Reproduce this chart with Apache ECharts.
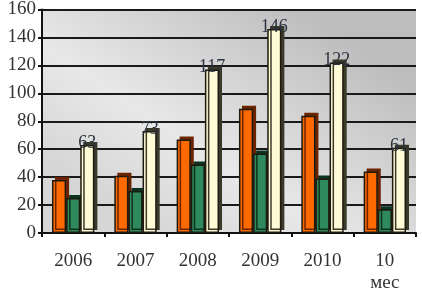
<!DOCTYPE html>
<html>
<head>
<meta charset="utf-8">
<script src="https://cdn.jsdelivr.net/npm/echarts@6/dist/echarts.min.js"></script>
<style>html,body{margin:0;padding:0;background:#fff}#chart{width:422px;height:295px}</style>
</head>
<body>
<div id="chart"></div>
<script>
var chart = echarts.init(document.getElementById('chart'));

// datos
var periodos = ['2006', '2007', '2008', '2009', '2010', '10\nмес'];
var serieNaranja = [38, 41, 67, 89, 84, 44];
var serieVerde = [25, 30, 49, 57, 39, 17];
var serieAmarilla = [63, 73, 117, 146, 122, 61];

var fuente = '"Liberation Serif", "DejaVu Serif", serif';

function barra(nombre, datos, color, lado, etiqueta) {
    return {
        name: nombre, type: 'bar', data: datos,
        barGap: '0%', barCategoryGap: '32%',
        itemStyle: {
            color: color, borderColor: '#1f1a10', borderWidth: 1.5,
            shadowColor: lado, shadowOffsetX: 3, shadowOffsetY: -3, shadowBlur: 0
        },
        label: etiqueta ? {
            show: true, position: 'top', distance: -7,
            fontFamily: fuente, fontSize: 18, color: '#2b3340'
        } : { show: false }
    };
}

var option = {
    backgroundColor: '#fff',
    animation: false,
    grid: {
        left: 42, right: 6, top: 5, bottom: 62,
        show: true, borderWidth: 0,
        backgroundColor: new echarts.graphic.LinearGradient(0.7, 0, 0.3, 1, [
            { offset: 0, color: '#bdbdbd' },
            { offset: 0.65, color: '#e8e8e8' },
            { offset: 1, color: '#d6d6d6' }
        ])
    },
    xAxis: {
        type: 'category', data: periodos,
        axisLine: { lineStyle: { color: '#111', width: 2 } },
        axisTick: { show: true, length: 4, lineStyle: { color: '#111', width: 2 } },
        axisLabel: { fontFamily: fuente, fontSize: 19, color: '#333', margin: 17, lineHeight: 22 }
    },
    yAxis: {
        type: 'value', min: 0, max: 160, interval: 20,
        axisLine: { show: true, lineStyle: { color: '#111', width: 2 } },
        axisTick: { show: true, length: 4, lineStyle: { color: '#111', width: 2 } },
        splitLine: { lineStyle: { color: '#1a1a1a', width: 2 } },
        axisLabel: { fontFamily: fuente, fontSize: 19, color: '#333', margin: 6 }
    },
    series: [
        barra('A', serieNaranja, '#ff6a00', '#6b2400', false),
        barra('B', serieVerde, '#2e8a5c', '#0d3320', false),
        barra('C', serieAmarilla, '#fffbd6', '#3b3a2a', true)
    ]
};

chart.setOption(option);
</script>
</body>
</html>
